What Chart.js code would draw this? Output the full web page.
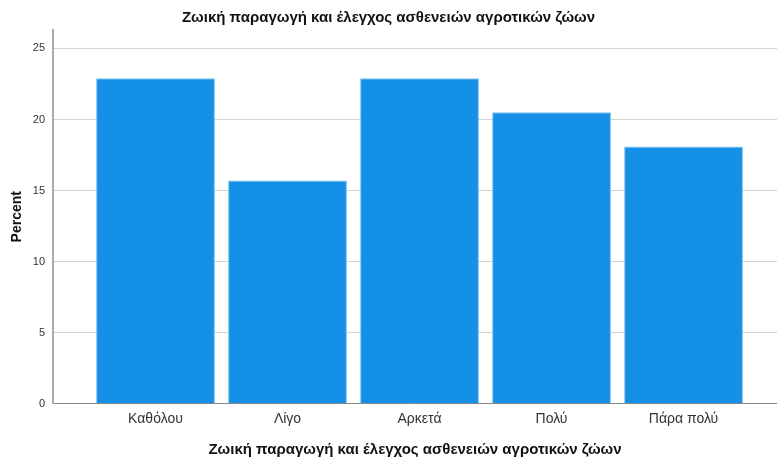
<!DOCTYPE html>
<html>
<head>
<meta charset="utf-8">
<script src="https://cdn.jsdelivr.net/npm/chart.js@4"></script>
<style>
  html, body { margin: 0; padding: 0; background: #fff; }
  #wrap { width: 777px; height: 459px; }
</style>
</head>
<body>
<div id="wrap"><canvas id="chart" width="777" height="459"></canvas></div>
<script>
// Ζωική παραγωγή - percent per answer
const categories = ['Καθόλου', 'Λίγο', 'Αρκετά', 'Πολύ', 'Πάρα πολύ'];
const percentValues = [22.9, 15.7, 22.9, 20.5, 18.1];
const yTicks = [0, 5, 10, 15, 20, 25];
const chartTitle = 'Ζωική παραγωγή και έλεγχος ασθενειών αγροτικών ζώων';

const font = 'Liberation Sans, Arial, sans-serif';

new Chart(document.getElementById('chart'), {
    type: 'bar',
    data: {
        datasets: [{
            data: percentValues.map((v, i) => ({ x: i, y: v })),
            backgroundColor: '#1490e6',
            borderColor: '#7fc0f0',
            borderWidth: 1,
            barPercentage: 0.9,
            categoryPercentage: 1
        }]
    },
    options: {
        responsive: false,
        animation: false,
        layout: { padding: 0 },
        plugins: {
            legend: { display: false },
            tooltip: { enabled: false },
            title: {
                display: true,
                text: chartTitle,
                color: '#111',
                font: { family: font, size: 15, weight: 'bold' },
                padding: { top: 9, bottom: 3 }
            }
        },
        scales: {
            x: {
                type: 'linear',
                offset: false,
                min: -0.7765,
                max: 4.708,
                afterBuildTicks: s => { s.ticks = categories.map((c, i) => ({ value: i })); },
                afterFit: s => { s.height = 55.5; },
                grid: { display: false, drawTicks: false },
                border: { display: true, color: '#888', width: 1 },
                ticks: {
                    callback: v => categories[v],
                    color: '#333',
                    padding: 7,
                    maxRotation: 0,
                    font: { family: font, size: 14 }
                },
                title: {
                    display: true,
                    text: chartTitle,
                    color: '#111',
                    font: { family: font, size: 15, weight: 'bold' },
                    padding: { top: 5, bottom: 0 }
                }
            },
            y: {
                min: 0,
                max: 26.3,
                afterBuildTicks: s => { s.ticks = yTicks.map(v => ({ value: v })); },
                afterFit: s => { s.width = 53; },
                grid: { color: '#d2d2d2', drawTicks: false },
                border: { display: true, color: '#aaa', width: 2 },
                ticks: {
                    color: '#333',
                    padding: 8,
                    font: { family: font, size: 11 }
                },
                title: {
                    display: true,
                    text: 'Percent',
                    color: '#111',
                    font: { family: font, size: 14, weight: 'bold' },
                    padding: { top: 9, bottom: 0 }
                }
            }
        }
    }
});
</script>
</body>
</html>
